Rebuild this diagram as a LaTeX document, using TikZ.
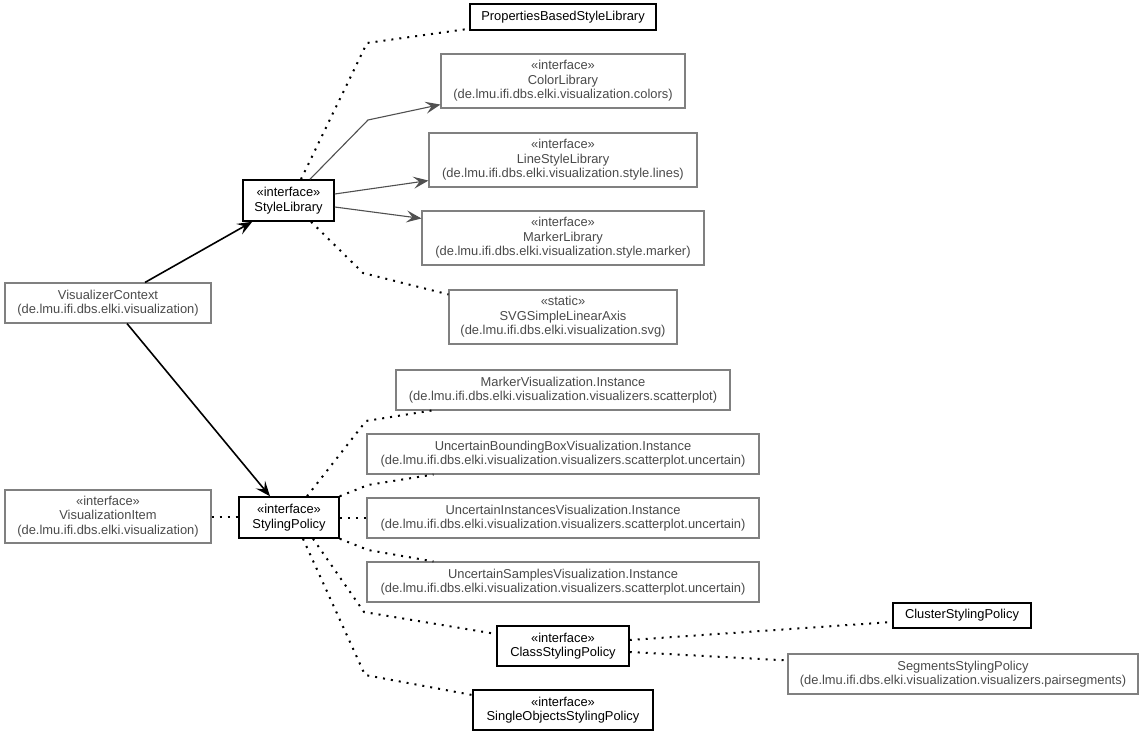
\documentclass[tikz,border=0pt]{standalone}
\usepackage{fontspec}
\setmainfont{Liberation Sans}
\usetikzlibrary{arrows.meta}
\definecolor{boxgray}{HTML}{808080}
\definecolor{txtgray}{HTML}{4A4A4A}
\definecolor{linegray}{HTML}{505050}
\begin{document}
\begin{tikzpicture}[x=1pt,y=-1pt,
  every node/.style={font=\fontsize{12.9}{14.6}\selectfont, align=center, inner sep=0pt},
  graybox/.style={draw=boxgray, line width=1.1pt, text=txtgray},
  blackbox/.style={draw=black, line width=1.5pt, text=black},
  dotline/.style={line width=2pt, dash pattern=on 2pt off 6pt, black},
  grayarrow/.style={line width=1.1pt, linegray, -{Stealth[length=15pt,width=12pt,inset=6pt]}},
  blackarrow/.style={line width=1.6pt, black, -{Stealth[length=15pt,width=12pt,inset=6pt]}}
]
\useasboundingbox (0,0) rectangle (1144,735);
\fill[white] (0,0) rectangle (1144,735);

% column 3
\node[blackbox, minimum width=186pt, minimum height=26pt] (pbsl) at (563,17) {PropertiesBasedStyleLibrary};
\node[graybox, minimum width=244pt, minimum height=54pt] (col) at (563,81) {«interface»\\ColorLibrary\\(de.lmu.ifi.dbs.elki.visualization.colors)};
\node[graybox, minimum width=268pt, minimum height=54pt] (ls) at (563,160) {«interface»\\LineStyleLibrary\\(de.lmu.ifi.dbs.elki.visualization.style.lines)};
\node[graybox, minimum width=282pt, minimum height=54pt] (mk) at (563,238) {«interface»\\MarkerLibrary\\(de.lmu.ifi.dbs.elki.visualization.style.marker)};
\node[graybox, minimum width=228pt, minimum height=54pt] (svg) at (563,317) {«static»\\SVGSimpleLinearAxis\\(de.lmu.ifi.dbs.elki.visualization.svg)};

\node[graybox, minimum width=334pt, minimum height=40pt] (mv) at (563,390) {MarkerVisualization.Instance\\(de.lmu.ifi.dbs.elki.visualization.visualizers.scatterplot)};
\node[graybox, minimum width=392pt, minimum height=40pt] (ubb) at (563,454) {UncertainBoundingBoxVisualization.Instance\\(de.lmu.ifi.dbs.elki.visualization.visualizers.scatterplot.uncertain)};
\node[graybox, minimum width=392pt, minimum height=40pt] (ui) at (563,518) {UncertainInstancesVisualization.Instance\\(de.lmu.ifi.dbs.elki.visualization.visualizers.scatterplot.uncertain)};
\node[graybox, minimum width=392pt, minimum height=40pt] (us) at (563,582) {UncertainSamplesVisualization.Instance\\(de.lmu.ifi.dbs.elki.visualization.visualizers.scatterplot.uncertain)};
\node[blackbox, minimum width=132pt, minimum height=40pt] (csp) at (563,646) {«interface»\\ClassStylingPolicy};
\node[blackbox, minimum width=180pt, minimum height=40pt] (so) at (563,710) {«interface»\\SingleObjectsStylingPolicy};

% column 4
\node[blackbox, minimum width=138pt, minimum height=25pt] (cl) at (962,615.5) {ClusterStylingPolicy};
\node[graybox, minimum width=350pt, minimum height=40pt] (seg) at (963,674) {SegmentsStylingPolicy\\(de.lmu.ifi.dbs.elki.visualization.visualizers.pairsegments)};

% column 2
\node[blackbox, minimum width=91pt, minimum height=41pt] (sl) at (288.5,200.5) {«interface»\\StyleLibrary};
\node[blackbox, minimum width=100pt, minimum height=41pt] (sp) at (289,517.5) {«interface»\\StylingPolicy};

% column 1
\node[graybox, minimum width=206pt, minimum height=40pt] (vc) at (108,303) {VisualizerContext\\(de.lmu.ifi.dbs.elki.visualization)};
\node[graybox, minimum width=206pt, minimum height=53pt] (vi) at (108,516.5) {«interface»\\VisualizationItem\\(de.lmu.ifi.dbs.elki.visualization)};

% waypoints
\coordinate (w1) at (367,43);
\coordinate (w2) at (368,120);
\coordinate (w3) at (363,273);
\coordinate (w4) at (366,421);
\coordinate (w5) at (368,485);
\coordinate (w6) at (368,550);
\coordinate (w7) at (364,612);
\coordinate (w8) at (365,675);

% StyleLibrary connectors
\draw[dotline] ([xshift=12.5pt]sl.north) -- (w1) -- ([yshift=2pt]pbsl.south west);
\draw[grayarrow] ([xshift=21.5pt]sl.north) -- (w2) -- ([yshift=4pt]col.south west);
\draw[grayarrow] ([yshift=6.5pt]sl.east) -- ([yshift=7pt]ls.south west);
\draw[grayarrow] ([yshift=-6.5pt]sl.east) -- ([yshift=-8pt]mk.north west);
\draw[dotline] ([xshift=22.5pt]sl.south) -- (w3) -- ([yshift=-5pt]svg.north west);

% VisualizerContext
\draw[blackarrow] ([xshift=37pt]vc.north) -- ([xshift=10pt]sl.south west);
\draw[blackarrow] ([xshift=19pt]vc.south) -- ([xshift=-19pt]sp.north);

% VisualizationItem
\draw[dotline] (vi.east) -- (vi.east -| sp.west);

% StylingPolicy connectors
\draw[dotline] ([xshift=18pt]sp.north) -- (w4) -- ([xshift=36pt]mv.south west);
\draw[dotline] (sp.north east) -- (w5) -- ([xshift=67pt]ubb.south west);
\draw[dotline] (sp.east) -- (sp.east -| ui.west);
\draw[dotline] (sp.south east) -- (w6) -- ([xshift=67pt]us.north west);
\draw[dotline] ([xshift=24pt]sp.south) -- (w7) -- ([yshift=12pt]csp.west);
\draw[dotline] ([xshift=14pt]sp.south) -- (w8) -- ([yshift=15pt]so.west);

% ClassStylingPolicy
\draw[dotline] ([yshift=6pt]csp.east) -- ([yshift=-6.5pt]cl.west);
\draw[dotline] ([yshift=-6pt]csp.east) -- ([yshift=-7pt]seg.north west);
\end{tikzpicture}
\end{document}
